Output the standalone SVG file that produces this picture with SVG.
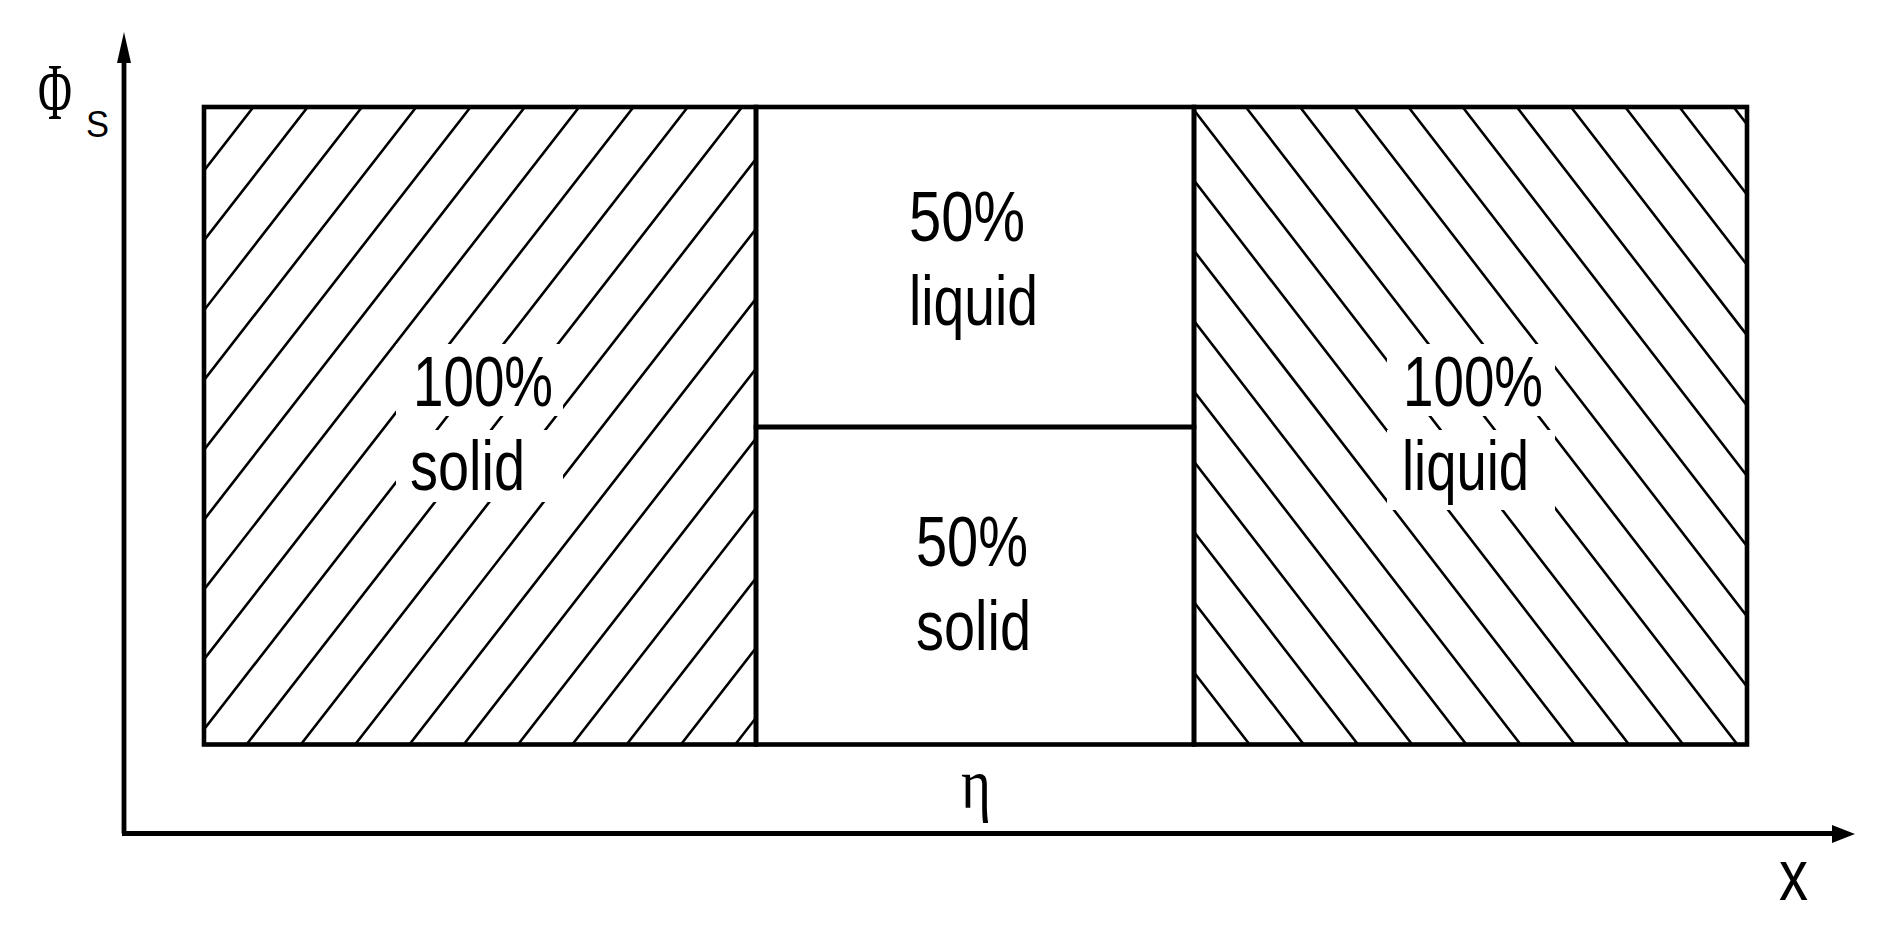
<svg xmlns="http://www.w3.org/2000/svg" width="1889" height="946" viewBox="0 0 1889 946">
<style>
.t{font-family:"Liberation Sans",Arial,sans-serif;font-size:70px;fill:#000}
.g{font-family:"Liberation Serif","Times New Roman",serif;fill:#000}
.b{fill:none;stroke:#000;stroke-width:4.6}
.h{fill:none;stroke:#000;stroke-width:2.6}
.ax{fill:none;stroke:#000;stroke-width:4.8}
.w{fill:#fff}
</style>
<defs>
<clipPath id="cl"><rect x="204" y="107" width="552" height="637.5"/></clipPath>
<clipPath id="cr"><rect x="1194" y="107" width="553" height="637.5"/></clipPath>
</defs>
<rect width="1889" height="946" fill="#fff"/>
<g id="left-solid">
<path class="h" clip-path="url(#cl)" d="M253.8,106.5L-242.2,744.5M308.1,106.5L-187.9,744.5M362.4,106.5L-133.6,744.5M416.7,106.5L-79.3,744.5M471,106.5L-25,744.5M525.3,106.5L29.3,744.5M579.6,106.5L83.6,744.5M633.9,106.5L137.9,744.5M688.2,106.5L192.2,744.5M742.5,106.5L246.5,744.5M796.8,106.5L300.8,744.5M851.1,106.5L355.1,744.5M905.4,106.5L409.4,744.5M959.7,106.5L463.7,744.5M1014,106.5L518,744.5M1068.3,106.5L572.3,744.5M1122.6,106.5L626.6,744.5M1176.9,106.5L680.9,744.5M1231.2,106.5L735.2,744.5"/>
<rect class="w" x="396" y="344" width="167" height="72"/>
<rect class="w" x="396" y="430" width="167" height="72"/>
<rect class="b" x="204" y="107" width="552" height="637.5"/>
<text class="t" x="413" y="406" textLength="140" lengthAdjust="spacingAndGlyphs">100%</text>
<text class="t" x="410" y="490" textLength="115" lengthAdjust="spacingAndGlyphs">solid</text>
</g>
<g id="mid-liquid">
<rect class="b" x="756" y="107" width="438" height="320"/>
<text class="t" x="909" y="241" textLength="116" lengthAdjust="spacingAndGlyphs">50%</text>
<text class="t" x="909" y="325" textLength="129" lengthAdjust="spacingAndGlyphs">liquid</text>
</g>
<g id="mid-solid">
<rect class="b" x="756" y="427" width="438" height="317.5"/>
<text class="t" x="916" y="566" textLength="112" lengthAdjust="spacingAndGlyphs">50%</text>
<text class="t" x="916" y="650" textLength="115" lengthAdjust="spacingAndGlyphs">solid</text>
</g>
<g id="right-liquid">
<path class="h" clip-path="url(#cr)" d="M703.4,106.5L1195.4,744.5M757.6,106.5L1249.6,744.5M811.8,106.5L1303.8,744.5M866,106.5L1358,744.5M920.2,106.5L1412.2,744.5M974.4,106.5L1466.4,744.5M1028.6,106.5L1520.6,744.5M1082.8,106.5L1574.8,744.5M1137,106.5L1629,744.5M1191.2,106.5L1683.2,744.5M1245.4,106.5L1737.4,744.5M1299.6,106.5L1791.6,744.5M1353.8,106.5L1845.8,744.5M1408,106.5L1900,744.5M1462.2,106.5L1954.2,744.5M1516.4,106.5L2008.4,744.5M1570.6,106.5L2062.6,744.5M1624.8,106.5L2116.8,744.5M1679,106.5L2171,744.5M1733.2,106.5L2225.2,744.5"/>
<rect class="w" x="1387" y="344" width="168" height="72"/>
<rect class="w" x="1387" y="430" width="168" height="80"/>
<rect class="b" x="1194" y="107" width="553" height="637.5"/>
<text class="t" x="1403" y="406" textLength="140" lengthAdjust="spacingAndGlyphs">100%</text>
<text class="t" x="1402" y="490" textLength="127" lengthAdjust="spacingAndGlyphs">liquid</text>
</g>
<g id="axes">
<path class="ax" d="M124,833.5V60M122,833.5H1835"/>
<polygon points="124,32 117,63 131,63" fill="#000"/>
<polygon points="1855,834 1832,825 1832,843" fill="#000"/>
<text class="g" transform="translate(38,119) scale(0.58,1)" x="0" y="0" font-size="80">Φ</text>
<text class="t" x="86" y="137" style="font-size:37px" textLength="23" lengthAdjust="spacingAndGlyphs">S</text>
<text class="g" x="961" y="808" font-size="72" textLength="30" lengthAdjust="spacingAndGlyphs">η</text>
<text class="t" x="1779" y="900" style="font-size:72px" textLength="29" lengthAdjust="spacingAndGlyphs">x</text>
</g>
</svg>
